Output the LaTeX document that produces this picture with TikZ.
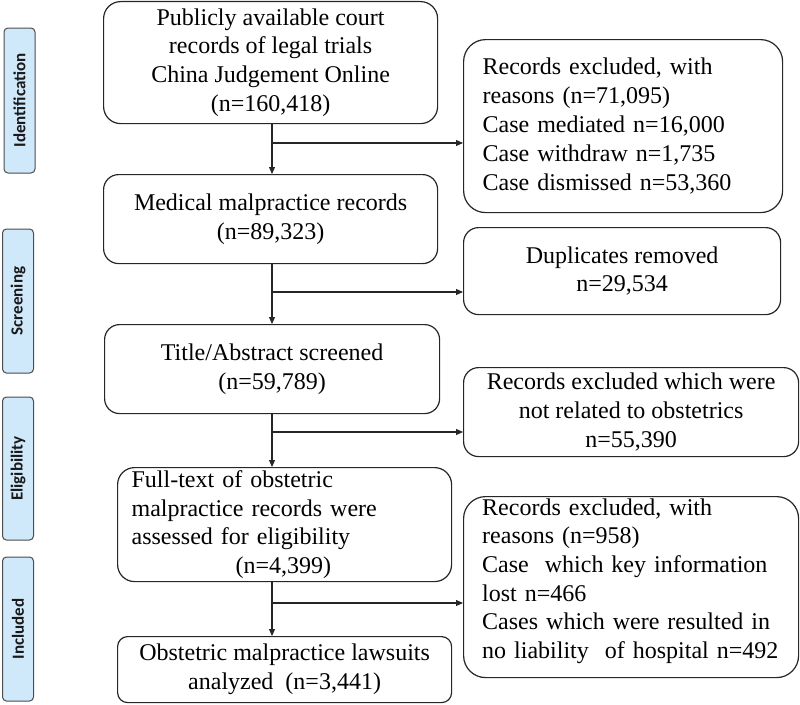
\documentclass[tikz,border=0pt]{standalone}
\usepackage{fontspec}
\setmainfont{Liberation Serif}
\newfontfamily\labfont{Carlito}[BoldFont={Carlito Bold}]
\usetikzlibrary{arrows.meta,calc}
\definecolor{phaseblue}{HTML}{CFE8FA}
\definecolor{linecol}{HTML}{262626}
\begin{document}
\begin{tikzpicture}[x=1pt,y=-1pt,
  box/.style={draw=linecol, line width=1.2pt, inner sep=0pt, anchor=north west, align=center,
              font=\fontsize{24}{28.8}\selectfont},
  lbox/.style={box, align=left, inner xsep=19pt},
  phase/.style={draw=black!70, fill=phaseblue, line width=1pt, rounded corners=4pt, rotate=90,
                minimum height=31pt, inner sep=0pt, text=black!90,
                font=\labfont\bfseries\fontsize{17}{18}\selectfont},
  arr/.style={draw=linecol, line width=1.1pt, -{Triangle[length=7pt,width=6pt]}},
]
\useasboundingbox (0,0) rectangle (800,704);

% phase labels
\node[phase, minimum width=145pt] (pid) at (19.5,100.5) {Identification};
\node[phase, minimum width=144pt] (psc) at (18,301) {Screening};
\node[phase, minimum width=143pt] (pel) at (18,468.5) {Eligibility};
\node[phase, minimum width=144pt] (pin) at (18,629) {Included};

% main column
\node[box, rounded corners=17pt, minimum width=334pt, minimum height=122pt] (b1) at (103,1)
  {Publicly available court\\records of legal trials\\China Judgement Online\\(n=160,418)};
\node[box, rounded corners=15pt, minimum width=334pt, minimum height=89pt] (b2) at (103,174)
  {Medical malpractice records\\(n=89,323)};
\node[box, rounded corners=15pt, minimum width=335pt, minimum height=89pt] (b3) at (104,324)
  {Title/Abstract screened\\(n=59,789)};
\node[lbox, rounded corners=17pt, inner xsep=14pt, text width=306pt, minimum height=114pt] (b4) at (117,467)
  {Full-text of obstetric\\malpractice records were\\assessed for eligibility\\\hspace*{104pt}(n=4,399)};
\node[box, rounded corners=10pt, minimum width=334pt, minimum height=66pt] (b5) at (117,636)
  {Obstetric malpractice lawsuits\\analyzed~ (n=3,441)};

% right column
\node[lbox, rounded corners=22pt, text width=281pt, minimum height=173pt] (r1) at (463,39)
  {Records excluded, with\\reasons (n=71,095)\\Case mediated n=16,000\\Case withdraw n=1,735\\Case dismissed n=53,360};
\node[box, rounded corners=15pt, minimum width=317pt, minimum height=87pt] (r2) at (463,227)
  {Duplicates removed\\n=29,534};
\node[box, rounded corners=15pt, minimum width=335pt, minimum height=89pt] (r3) at (463,367)
  {Records excluded which were\\not related to obstetrics\\n=55,390};
\node[lbox, rounded corners=22pt, text width=297pt, minimum height=181pt] (r4) at (463,496) {};
\node[anchor=west, align=left, inner sep=0pt, text width=297pt, font=\fontsize{24}{28.6}\selectfont]
  (r4t) at ($(r4.west)+(19,-6)$)
  {Records excluded, with\\reasons (n=958)\\Case~ which key information\\lost n=466\\Cases which were resulted in\\no liability~ of hospital n=492};

% connectors
\coordinate (ax) at (272,0);
\coordinate (j1) at (272,143);
\coordinate (j2) at (272,292);
\coordinate (j3) at (272,432);
\coordinate (j4) at (272,603);
\draw[arr] (b1.south -| ax) -- (b2.north -| ax);
\draw[arr] (b2.south -| ax) -- (b3.north -| ax);
\draw[arr] (b3.south -| ax) -- (b4.north -| ax);
\draw[arr] (b4.south -| ax) -- (b5.north -| ax);
\draw[arr] (j1) -- (j1 -| r1.west);
\draw[arr] (j2) -- (j2 -| r2.west);
\draw[arr] (j3) -- (j3 -| r3.west);
\draw[arr] (j4) -- (j4 -| r4.west);
\end{tikzpicture}
\end{document}
